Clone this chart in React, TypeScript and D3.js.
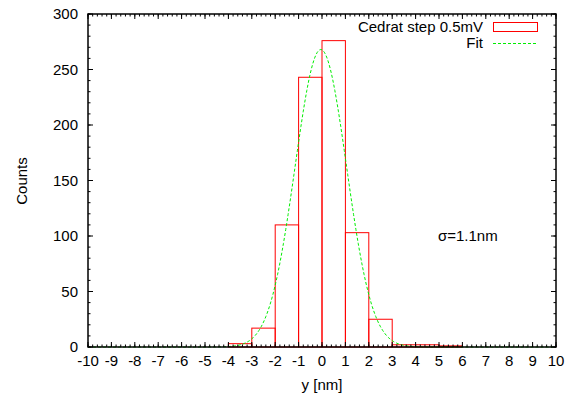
import React from "react";
import * as d3 from "d3";

const binStarts = [-4, -3, -2, -1, 0, 1, 2, 3, 4, 5];
const binCounts = [3, 17, 110, 243, 276, 103, 25, 2, 2, 1];
const fitAmp = 268;
const fitMu = -0.05;
const fitSigma = 1.1;
const xTicks = d3.range(-10, 11, 1);
const yTicks = [0, 50, 100, 150, 200, 250, 300];
const legendLabels = ["Cedrat step 0.5mV", "Fit"];
const annotation = "σ=1.1nm";

const W = 579, H = 398;
const m = { left: 88, right: 556, top: 14, bottom: 347 };
const FONT = "'Liberation Sans', Arial, Helvetica, sans-serif";
const FS = 15;

export default function App() {
  const x = d3.scaleLinear().domain([-10, 10]).range([m.left, m.right]);
  const y = d3.scaleLinear().domain([0, 300]).range([m.bottom, m.top]);

  const xMinor = d3.range(-10, 10.001, 0.2);
  const yMinor = d3.range(0, 300.001, 10);

  const fitPts = d3.range(-10, 10.0001, 0.05).map((v) => [v, fitAmp * Math.exp(-((v - fitMu) ** 2) / (2 * fitSigma * fitSigma))] as [number, number]);
  const line = d3.line<[number, number]>().x((d) => x(d[0])).y((d) => y(d[1]));

  return (
    <svg width={W} height={H} style={{ position: "absolute", left: 0, top: 0 }} fontFamily={FONT}>
      <rect x={0} y={0} width={W} height={H} fill="white" />
      {binStarts.map((s, i) => (
        <rect key={i} x={x(s)} y={y(binCounts[i])} width={x(s + 1) - x(s)} height={y(0) - y(binCounts[i])}
          fill="none" stroke="#ff0000" strokeWidth={1} />
      ))}
      <path d={line(fitPts.filter((p) => y(p[1]) < m.bottom + 0.5)) || ""} fill="none" stroke="#00ee00" strokeWidth={1} strokeDasharray="3,2" />
      {xMinor.map((v, i) => (
        <g key={"xm" + i}>
          <line x1={x(v)} x2={x(v)} y1={m.bottom} y2={m.bottom - 2.5} stroke="black" />
          <line x1={x(v)} x2={x(v)} y1={m.top} y2={m.top + 2.5} stroke="black" />
        </g>
      ))}
      {yMinor.map((v, i) => (
        <g key={"ym" + i}>
          <line x1={m.left} x2={m.left + 2.5} y1={y(v)} y2={y(v)} stroke="black" />
          <line x1={m.right} x2={m.right - 2.5} y1={y(v)} y2={y(v)} stroke="black" />
        </g>
      ))}
      {xTicks.map((v) => (
        <g key={"xt" + v}>
          <line x1={x(v)} x2={x(v)} y1={m.bottom} y2={m.bottom - 5} stroke="black" />
          <line x1={x(v)} x2={x(v)} y1={m.top} y2={m.top + 5} stroke="black" />
          <text x={x(v)} y={366} textAnchor="middle" fontSize={FS} fill="black">{v}</text>
        </g>
      ))}
      {yTicks.map((v) => (
        <g key={"yt" + v}>
          <line x1={m.left} x2={m.left + 5} y1={y(v)} y2={y(v)} stroke="black" />
          <line x1={m.right} x2={m.right - 5} y1={y(v)} y2={y(v)} stroke="black" />
          <text x={78} y={y(v) + 5} textAnchor="end" fontSize={FS} fill="black">{v}</text>
        </g>
      ))}
      <rect x={m.left} y={m.top} width={m.right - m.left} height={m.bottom - m.top} fill="none" stroke="black" strokeWidth={1.5} />
      <text x={322} y={390} textAnchor="middle" fontSize={FS}>y [nm]</text>
      <text transform={`translate(27,181) rotate(-90)`} textAnchor="middle" fontSize={FS}>Counts</text>
      <text x={438} y={241} fontSize={FS}>{annotation}</text>
      <text x={483} y={31.5} textAnchor="end" fontSize={FS}>{legendLabels[0]}</text>
      <rect x={493.5} y={22.5} width={44} height={9} fill="none" stroke="#ff0000" strokeWidth={1} />
      <text x={483} y={48} textAnchor="end" fontSize={FS}>{legendLabels[1]}</text>
      <line x1={493} x2={537} y1={43.5} y2={43.5} stroke="#00ee00" strokeWidth={1} strokeDasharray="3,2" />
    </svg>
  );
}
